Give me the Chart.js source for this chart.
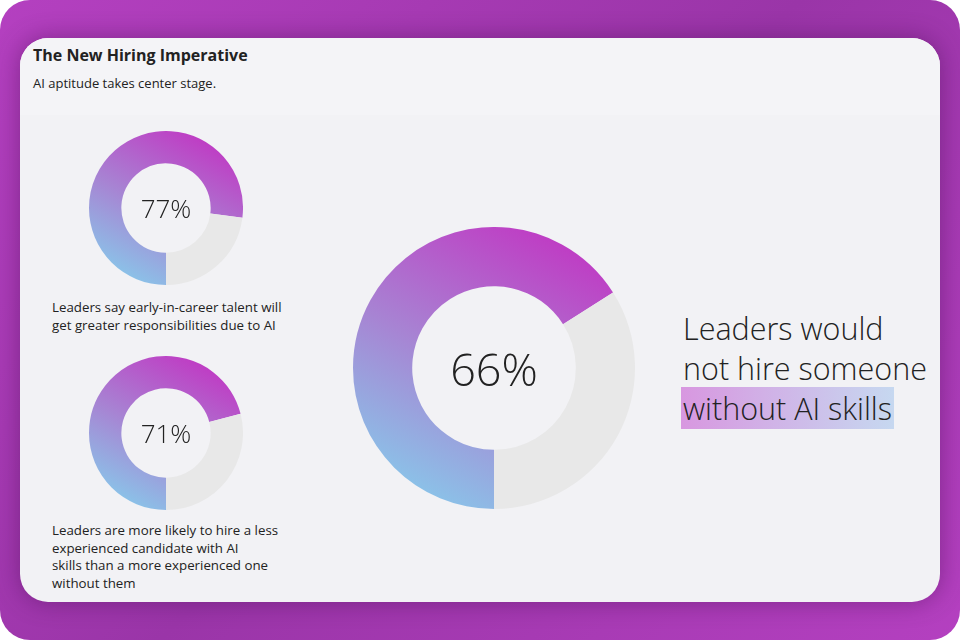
<!DOCTYPE html>
<html>
<head>
<meta charset="utf-8">
<script src="https://cdn.jsdelivr.net/npm/chart.js@4.4.1/dist/chart.umd.min.js"></script>
<style>
  html, body { margin: 0; padding: 0; background: #ffffff; }
  body { width: 960px; height: 640px; position: relative; overflow: hidden; font-family: "Open Sans", "Noto Sans", sans-serif; }
  .frame { position: absolute; left: 0; top: 0; width: 960px; height: 640px; border-radius: 30px;
    background: linear-gradient(135deg, #b440c0 0%, #9a35a8 50%, #b440c0 100%); }
  .card { position: absolute; left: 20px; top: 38px; width: 920px; height: 564px; border-radius: 28px;
    background: #f2f2f5; box-shadow: 0 0 24px rgba(70, 10, 80, 0.45); overflow: hidden; }
  .header { position: absolute; left: 0; top: 0; width: 920px; height: 77px; background: #f4f4f7; }
  .title { position: absolute; left: 13px; top: 6px; font-size: 16px; font-weight: 700; color: #222; }
  .subtitle { position: absolute; left: 13px; top: 36px; font-size: 13px; color: #222; }
  .chartbox { position: absolute; }
  .center { position: absolute; left: 0; top: 0; width: 100%; height: 100%; display: flex; align-items: center;
    justify-content: center; font-weight: 300; color: #222; pointer-events: none; }
  .caption { position: absolute; left: 32px; font-size: 13.3px; line-height: 17.5px; color: #222; }
  .big { position: absolute; left: 663px; top: 270px; font-size: 30.5px; line-height: 40px; font-weight: 300; color: #222; }
  .hl { background: linear-gradient(90deg, #d897e0 0%, #c6d8f0 100%); padding: 0 2px; margin-left: -2px; }
</style>
</head>
<body>
<div class="frame"></div>
<div class="card">
  <div class="header"></div>
  <div class="title">The New Hiring Imperative</div>
  <div class="subtitle">AI aptitude takes center stage.</div>

  <div class="chartbox" style="left:69px; top:93px; width:154px; height:154px;">
    <canvas id="chart1"></canvas>
    <div class="center" id="label1" style="font-size:26px;"></div>
  </div>
  <div class="caption" style="top:261px;">Leaders say early-in-career talent will<br>get greater responsibilities due to AI</div>

  <div class="chartbox" style="left:69px; top:318px; width:154px; height:154px;">
    <canvas id="chart2"></canvas>
    <div class="center" id="label2" style="font-size:26px;"></div>
  </div>
  <div class="caption" style="top:484px;">Leaders are more likely to hire a less<br>experienced candidate with AI<br>skills than a more experienced one<br>without them</div>

  <div class="chartbox" style="left:333px; top:189px; width:282px; height:282px;">
    <canvas id="chart3"></canvas>
    <div class="center" id="label3" style="font-size:45px;"></div>
  </div>
  <div class="big">Leaders would<br>not hire someone<br><span class="hl">without AI skills</span></div>
</div>

<script>
// share of leaders, in percent
const shares = [77, 71, 66];
const segmentLabels = ["Yes", "Rest"];
const canvasIds = ["chart1", "chart2", "chart3"];
const labelIds = ["label1", "label2", "label3"];

const restColor = "#e8e8e8";

function arcGradient(context) {
  const chart = context.chart;
  const area = chart.chartArea;
  if (!area) return "#b850c8";
  const w = area.right - area.left;
  const g = chart.ctx.createLinearGradient(area.left + w * 0.8, area.top, area.left + w * 0.25, area.bottom);
  g.addColorStop(0, "#c233c2");
  g.addColorStop(0.55, "#a784d3");
  g.addColorStop(1, "#88c8ea");
  return g;
}

function createDoughnut(id, value) {
  const ctx = document.getElementById(id).getContext("2d");
  return new Chart(ctx, {
    type: "doughnut",
    data: {
      labels: segmentLabels,
      datasets: [{
        data: [value, 100 - value],
        backgroundColor: (c) => c.dataIndex === 0 ? arcGradient(c) : restColor,
        borderWidth: 0
      }]
    },
    options: {
      responsive: true,
      maintainAspectRatio: false,
      animation: false,
      rotation: 180,
      cutout: "58%",
      events: [],
      layout: { padding: 0 },
      plugins: {
        legend: { display: false },
        tooltip: { enabled: false }
      }
    }
  });
}

shares.forEach((v, i) => {
  createDoughnut(canvasIds[i], v);
  document.getElementById(labelIds[i]).textContent = v + "%";
});
</script>
</body>
</html>
